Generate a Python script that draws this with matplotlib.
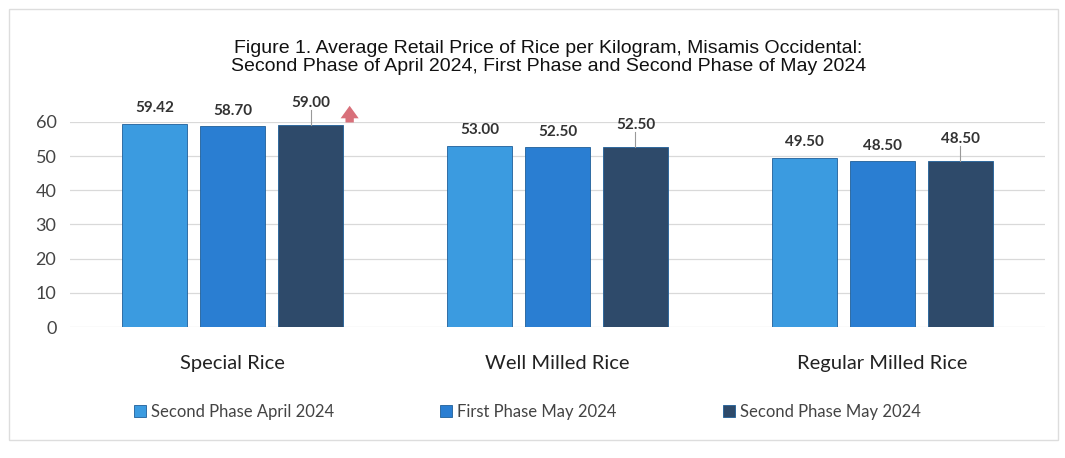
import matplotlib.pyplot as plt
import numpy as np

categorias = ["Special Rice", "Well Milled Rice", "Regular Milled Rice"]
series = ["Second Phase April 2024", "First Phase May 2024", "Second Phase May 2024"]
abril_2 = [59.42, 53.00, 49.50]
mayo_1 = [58.70, 52.50, 48.50]
mayo_2 = [59.00, 52.50, 48.50]
etiquetas_y = [0, 10, 20, 30, 40, 50, 60]

colores = ["#3b9be0", "#2a7ed2", "#2e4a6a"]

plt.rcParams['font.family'] = ['Lato', 'DejaVu Sans']

fig = plt.figure(figsize=(10.65, 4.58), dpi=100)
ax = fig.add_axes([0.066, 0.286, 0.915, 0.448])

x = np.arange(len(categorias))
ancho = 0.2
paso = 0.24
valores = [abril_2, mayo_1, mayo_2]

for i, (serie, vals) in enumerate(zip(series, valores)):
    pos = x + (i - 1) * paso
    ax.bar(pos, vals, width=ancho, color=colores[i], label=serie,
           edgecolor="#1f5f99", linewidth=0.6, zorder=3)
    for p, v in zip(pos, vals):
        extra = 4.5 if i == 2 else 2.5
        ax.text(p, v + extra, f"{v:.2f}", ha="center", va="bottom",
                fontsize=11, fontweight="bold", color="#333333")
        if i == 2:
            # linea guia de la etiqueta
            ax.plot([p, p], [v, v + extra], color="#999999", lw=0.8,
                    zorder=4, clip_on=False)

# flecha roja de aumento
ax.annotate("", xy=(0.36, 65.5), xytext=(0.36, 59),
            arrowprops=dict(arrowstyle="simple,head_width=1.3,head_length=0.9,tail_width=0.6",
                            color="#d8707a", lw=0),
            annotation_clip=False)

ax.set_xlim(-0.5, 2.5)
ax.set_ylim(0, 60)
ax.set_yticks(etiquetas_y)
ax.set_yticklabels([str(e) for e in etiquetas_y], fontsize=13, color="#444444")
ax.set_xticks(x)
ax.set_xticklabels(categorias, fontsize=14.5, color="#222222")
ax.tick_params(axis="x", length=0, pad=20)
ax.tick_params(axis="y", length=0, pad=10)
ax.grid(axis="y", color="#d9d9d9", lw=0.9, zorder=0)
for s in ax.spines.values():
    s.set_visible(False)

fig.text(0.515, 0.875, "Figure 1. Average Retail Price of Rice per Kilogram, Misamis Occidental:\n"
         "Second Phase of April 2024, First Phase and Second Phase of May 2024",
         ha="center", va="center", fontsize=14, family="Liberation Sans",
         linespacing=1.05, color="#111111")

ax.legend(loc="upper left", bbox_to_anchor=(0.05, -0.3), ncol=3, frameon=False,
          fontsize=12, handlelength=0.7, handleheight=0.7, handletextpad=0.3,
          columnspacing=6.4, labelcolor="#444444")

fig.patches.append(plt.Rectangle((0.008, 0.04), 0.985, 0.94, transform=fig.transFigure,
                                 fill=False, edgecolor="#dddddd", lw=1))

fig.savefig("out.png", dpi=100)
